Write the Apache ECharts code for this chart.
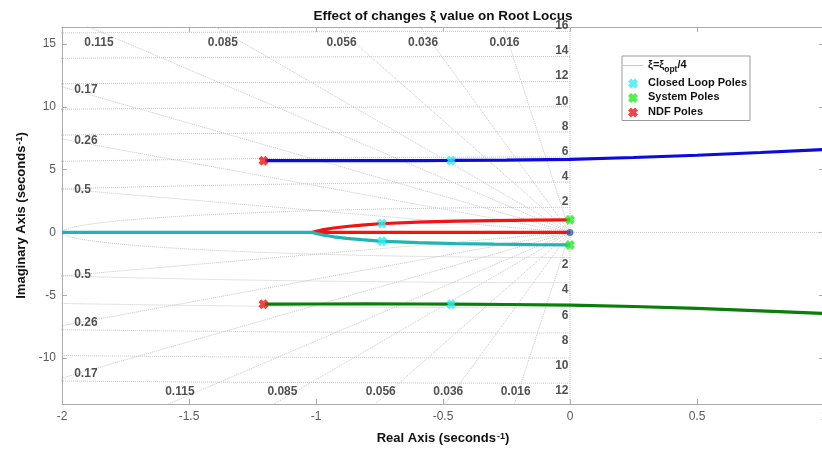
<!DOCTYPE html>
<html><head><meta charset="utf-8">
<script src="https://cdn.jsdelivr.net/npm/echarts@6/dist/echarts.min.js"></script>
<style>html,body{margin:0;padding:0;background:#fff}#c{width:822px;height:459px}</style>
</head><body><div id="c"></div>
<script>
// ---- data ----
const xTicks = [-2, -1.5, -1, -0.5, 0, 0.5, 1];
const yTicks = [-10, -5, 0, 5, 10, 15];
const xRange = [-2, 1];
const yRange = [-13.66, 16.35];
const zetaValues = [0.016, 0.036, 0.056, 0.085, 0.115, 0.17, 0.26, 0.5];
const wnValues = [2, 4, 6, 8, 10, 12, 14, 16];

const blueBranch = [[-1.2,5.71],[-1.0,5.71],[-0.8,5.71],[-0.6,5.72],[-0.47,5.73],[-0.25,5.76],[0,5.82],[0.25,5.96],[0.5,6.14],[0.75,6.36],[1.0,6.6]];
const greenBranch = [[-1.2,-5.71],[-1.0,-5.7],[-0.8,-5.69],[-0.6,-5.7],[-0.47,-5.71],[-0.25,-5.74],[0,-5.79],[0.25,-5.9],[0.5,-6.05],[0.75,-6.24],[1.0,-6.45]];
const redBranch = [[0,1.0],[-0.15,0.98],[-0.3,0.94],[-0.45,0.89],[-0.6,0.81],[-0.75,0.69],[-0.82,0.58],[-0.88,0.47],[-0.93,0.35],[-0.97,0.22],[-0.995,0.11],[-1.015,0],[0,0]];
const cyanBranch = [[0,-1.0],[-0.15,-0.98],[-0.3,-0.94],[-0.45,-0.89],[-0.6,-0.81],[-0.75,-0.69],[-0.82,-0.58],[-0.88,-0.47],[-0.93,-0.35],[-0.97,-0.22],[-0.995,-0.11],[-1.015,0],[-2,0]];

const closedLoopPoles = [[-0.468,5.73],[-0.468,-5.71],[-0.74,0.70],[-0.74,-0.70]];
const systemPoles = [[0,1.0],[0,-1.0]];
const ndfPoles = [[-1.207,5.71],[-1.207,-5.71]];
const zerosPts = [[0,0]];

// ---- styling ----
const FONT = "'Liberation Sans', Arial, Helvetica, sans-serif";
const gridColor = '#c6c6c6';
const axisColor = '#ababab';
const X_PATH = 'path://M0,3 L3,0 L5,2 L7,0 L10,3 L8,5 L10,7 L7,10 L5,8 L3,10 L0,7 L2,5 Z';

const series = [];
const gridLine = (data) => ({
  type: 'line', data, symbol: 'none', silent: true, z: 1,
  lineStyle: { color: gridColor, width: 1, type: 'dotted' }, animation: false
});

// natural-frequency arcs (left half plane)
wnValues.forEach(r => {
  const pts = [];
  for (let a = 90; a <= 270; a += 1) {
    const t = a * Math.PI / 180;
    pts.push([r * Math.cos(t), r * Math.sin(t)]);
  }
  series.push(gridLine(pts));
});
// damping rays
zetaValues.forEach(z => {
  const R = 40, s = Math.sqrt(1 - z * z);
  series.push(gridLine([[0, 0], [-R * z, R * s]]));
  series.push(gridLine([[0, 0], [-R * z, -R * s]]));
});
series.push(gridLine([[xRange[0], 0], [xRange[1], 0]]));
series.push(gridLine([[0, yRange[0]], [0, yRange[1]]]));

// grid labels
const labelText = { fontFamily: FONT, fontSize: 12, fontWeight: 'bold', color: '#262626' };
const gridLabels = [];
wnValues.forEach(r => {
  if (r <= yRange[1]) gridLabels.push({ value: [0, r], name: String(r),
    label: { align: 'right', verticalAlign: 'bottom', position: [-1, 1] } });
  if (-r >= yRange[0]) gridLabels.push({ value: [0, -r], name: String(r),
    label: { align: 'right', verticalAlign: 'top', position: [-1, 2] } });
});
zetaValues.forEach(z => {
  const s = Math.sqrt(1 - z * z);
  const xTop = -16 * z / s;
  if (xTop > xRange[0] + 0.1) {
    gridLabels.push({ value: [xTop, 15.1], name: String(z), label: { align: 'center', verticalAlign: 'middle', position: [0, 0] } });
    gridLabels.push({ value: [-13.25 * z / s, -12.75], name: String(z), label: { align: 'center', verticalAlign: 'middle', position: [0, 0] } });
  } else {
    const yL = 1.95 * s / z;
    gridLabels.push({ value: [-1.95, yL], name: String(z), label: { align: 'left', verticalAlign: 'middle', position: [0, 0] } });
    gridLabels.push({ value: [-1.95, -yL], name: String(z), label: { align: 'left', verticalAlign: 'middle', position: [0, 0] } });
  }
});
series.push({
  type: 'scatter', data: gridLabels, symbolSize: 1, silent: true, z: 2,
  itemStyle: { color: 'transparent' },
  label: Object.assign({ show: true, formatter: p => p.name }, labelText),
  animation: false
});

// legend line entry
series.push({ name: 'xi', type: 'line', data: [], symbol: 'none',
  lineStyle: { color: '#8cc0e8', width: 1 }, itemStyle: { color: '#8cc0e8' } });

// loci
const locus = (data, color) => ({ type: 'line', data, symbol: 'none', z: 5, animation: false,
  lineStyle: { color, width: 3.2 } });
series.push(locus(blueBranch, '#0b0bdc'));
series.push(locus(greenBranch, '#0a7d0a'));
series.push(locus(redBranch, '#f01414'));
series.push(locus(cyanBranch, '#22b4b4'));

series.push({ type: 'scatter', data: zerosPts, symbol: 'circle', symbolSize: 7, z: 8,
  itemStyle: { color: '#2a62ac' }, animation: false });

const poleSeries = (name, data, color) => ({ name, type: 'scatter', data, symbol: X_PATH,
  symbolSize: 10, z: 10, itemStyle: { color }, animation: false });
series.push(poleSeries('Closed Loop Poles', closedLoopPoles, '#33eef2'));
series.push(poleSeries('System Poles', systemPoles, '#22ee22'));
series.push(poleSeries('NDF Poles', ndfPoles, '#f01414'));

const axisCommon = {
  type: 'value', splitLine: { show: false },
  axisLine: { show: true, onZero: false, lineStyle: { color: axisColor, width: 1 } },
  axisTick: { show: true, inside: true, length: 5, lineStyle: { color: axisColor } }
};
const nameRich = {
  n: { fontFamily: FONT, fontSize: 13, fontWeight: 'bold', color: '#111', lineHeight: 17, verticalAlign: 'top' },
  sup: { fontFamily: FONT, fontSize: 9, fontWeight: 'bold', color: '#111', lineHeight: 9, verticalAlign: 'top', padding: [0, 0, 0, 1] }
};

const option = {
  backgroundColor: '#fff',
  animation: false,
  title: {
    text: 'Effect of changes ξ value on Root Locus', left: 438, top: 4, textAlign: 'center',
    textStyle: { fontFamily: FONT, fontSize: 13.5, fontWeight: 'bold', color: '#111' }
  },
  grid: { left: 62, top: 27, width: 762, height: 377, outerBoundsMode: 'none', containLabel: false },
  legend: {
    orient: 'vertical', left: 622, top: 56, itemWidth: 20, itemHeight: 10, itemGap: 3,
    padding: [3, 3, 3, 1], borderColor: '#9a9a9a', borderWidth: 1, backgroundColor: '#fff',
    data: [
      { name: 'xi', icon: 'path://M0,5 L20,5 L20,5.7 L0,5.7 Z', itemStyle: { color: '#8cc0e8' } },
      { name: 'Closed Loop Poles', icon: X_PATH },
      { name: 'System Poles', icon: X_PATH },
      { name: 'NDF Poles', icon: X_PATH }
    ],
    formatter: n => n === 'xi' ? '{n|ξ=ξ}{sub|opt}{n|/4}' : '{n|' + n + '}',
    textStyle: {
      fontFamily: FONT, fontSize: 11, fontWeight: 'bold', color: '#111',
      rich: {
        n: { fontFamily: FONT, fontSize: 11, fontWeight: 'bold', color: '#111', lineHeight: 13, verticalAlign: 'top' },
        sub: { fontFamily: FONT, fontSize: 8.5, fontWeight: 'bold', color: '#111', lineHeight: 9, padding: [6, 0, 0, 0], verticalAlign: 'top' }
      }
    }
  },
  xAxis: [
    Object.assign({}, axisCommon, {
      min: xRange[0], max: xRange[1], interval: 0.5, position: 'bottom',
      axisLabel: { margin: 7, fontFamily: FONT, fontSize: 12, color: '#5a5a5a', customValues: xTicks },
      axisTick: Object.assign({}, axisCommon.axisTick, { customValues: xTicks }),
      name: '{n|Real Axis (seconds}{sup|-1}{n|)}', nameLocation: 'middle', nameGap: 28,
      nameTextStyle: { rich: nameRich }
    }),
    Object.assign({}, axisCommon, {
      min: xRange[0], max: xRange[1], interval: 0.5, position: 'top',
      axisLabel: { show: false }
    })
  ],
  yAxis: [
    Object.assign({}, axisCommon, {
      min: yRange[0], max: yRange[1], position: 'left',
      axisLabel: { margin: 6, fontFamily: FONT, fontSize: 12, color: '#5a5a5a', customValues: yTicks },
      axisTick: Object.assign({}, axisCommon.axisTick, { customValues: yTicks }),
      name: '{n|Imaginary Axis (seconds}{sup|-1}{n|)}', nameLocation: 'middle', nameGap: 29,
      nameTextStyle: { rich: nameRich }
    }),
    Object.assign({}, axisCommon, {
      min: yRange[0], max: yRange[1], position: 'right',
      axisLabel: { show: false, customValues: yTicks },
      axisTick: Object.assign({}, axisCommon.axisTick, { customValues: yTicks })
    })
  ],
  series
};

const chart = echarts.init(document.getElementById('c'), null, { renderer: 'canvas' });
chart.setOption(option);
</script>
</body></html>
